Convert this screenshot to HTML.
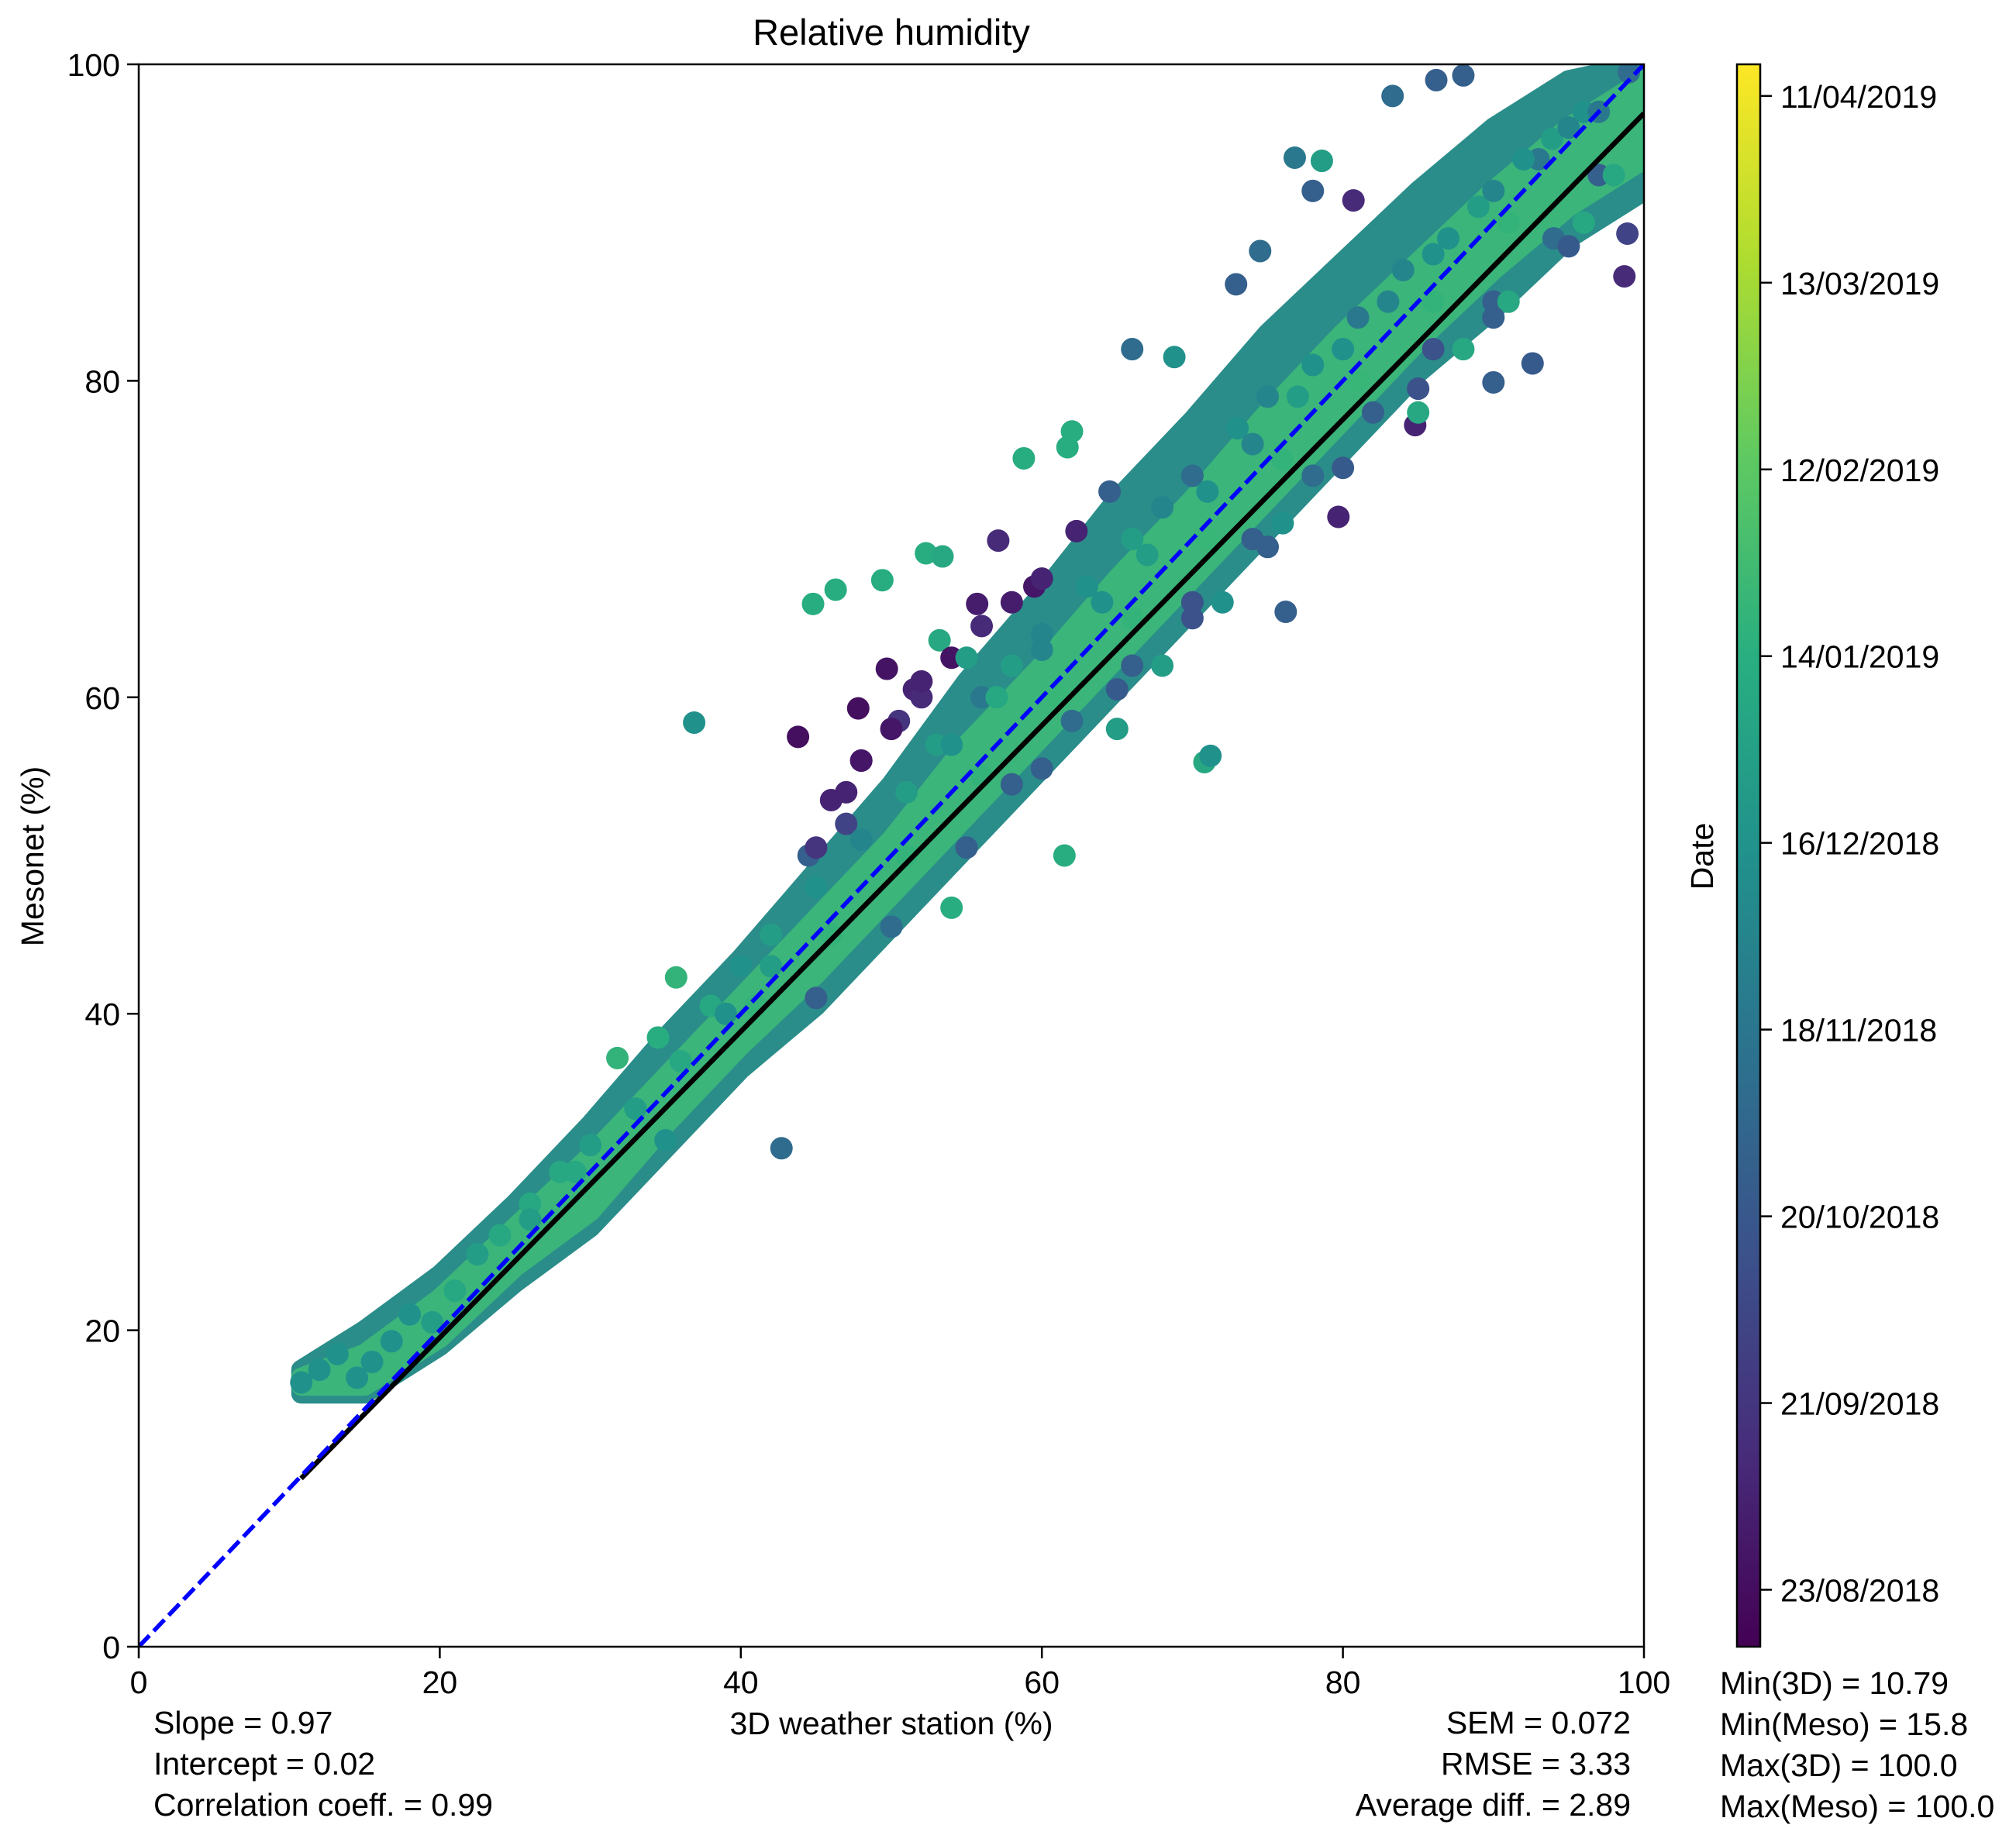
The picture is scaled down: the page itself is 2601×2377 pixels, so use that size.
<!DOCTYPE html>
<html><head><meta charset="utf-8"><style>
html,body{margin:0;padding:0;background:#fff}
svg text{font-family:"Liberation Sans",Arial,sans-serif;fill:#000}
</style></head><body>
<svg id="chart" width="2601" height="2372" viewBox="0 0 2601 2372" xmlns="http://www.w3.org/2000/svg">
<rect width="2601" height="2372" fill="#fff"/>
<defs>
<linearGradient id="vir" x1="0" y1="1" x2="0" y2="0">
<stop offset="0" stop-color="#440154"/><stop offset="0.125" stop-color="#472d7b"/><stop offset="0.25" stop-color="#3b528b"/><stop offset="0.375" stop-color="#2c728e"/><stop offset="0.5" stop-color="#21918c"/><stop offset="0.625" stop-color="#28ae80"/><stop offset="0.75" stop-color="#5ec962"/><stop offset="0.875" stop-color="#addc30"/><stop offset="1" stop-color="#fde725"/>
</linearGradient>
<clipPath id="plotclip"><rect x="179" y="83" width="1942" height="2042"/></clipPath>
</defs>
<g id="band" clip-path="url(#plotclip)"></g>
<g id="pts" clip-path="url(#plotclip)"></g>
<g id="lines" clip-path="url(#plotclip)"></g>
<rect x="179" y="83" width="1942" height="2042" fill="none" stroke="#000" stroke-width="2.5"/>
<g id="axes"></g>
<text x="1150" y="58" font-size="47" text-anchor="middle">Relative humidity</text>
<text x="1150" y="2238" font-size="41" text-anchor="middle">3D weather station (%)</text>
<text transform="translate(56,1105) rotate(-90)" font-size="41" text-anchor="middle">Mesonet (%)</text>
<rect x="2241" y="83" width="30" height="2042" fill="url(#vir)" stroke="#000" stroke-width="2.5"/>
<g id="cbar"></g>
<text transform="translate(2210,1105) rotate(-90)" font-size="41" text-anchor="middle">Date</text>
<g font-size="41">
<text x="198" y="2237">Slope = 0.97</text>
<text x="198" y="2290">Intercept = 0.02</text>
<text x="198" y="2343">Correlation coeff. = 0.99</text>
</g>
<g font-size="41" text-anchor="end">
<text x="2104" y="2237">SEM = 0.072</text>
<text x="2104" y="2290">RMSE = 3.33</text>
<text x="2104" y="2343">Average diff. = 2.89</text>
</g>
<g font-size="41">
<text x="2219" y="2186">Min(3D) = 10.79</text>
<text x="2219" y="2239">Min(Meso) = 15.8</text>
<text x="2219" y="2292">Max(3D) = 100.0</text>
<text x="2219" y="2345">Max(Meso) = 100.0</text>
</g>
</svg>
<script>
const xTicks=[0,20,40,60,80,100];
const yTicks=[0,20,40,60,80,100];
const cbarLabels=["23/08/2018","21/09/2018","20/10/2018","18/11/2018","16/12/2018","14/01/2019","12/02/2019","13/03/2019","11/04/2019"];
const cbarTickFrac=[0.036,0.154,0.272,0.390,0.508,0.626,0.744,0.862,0.980];
const bandX=[10.8,15,20,25,30,35,40,45,50,55,60,65,70,75,80,85,90,95,100];
const bandUpper=[17.5,20,23.5,28,33,38.5,43.5,49,54.5,61,66.5,72.5,77.5,83,87.5,92,96,99,100];
const bandLower=[16,16,19,23,26.5,31.5,36.5,40.5,45.5,50.5,55.5,60.5,65.5,70.5,75.5,80.5,84.5,89,92];
const innerUpper=[17,18.5,22,26.5,31,36,41,46,51,57,62,67.5,72.5,78,83,87.5,92,96,99];
const innerLower=[16.5,16.5,19.5,24,27.5,33,38,42.5,47.5,52.5,57.5,62.5,67.5,72.5,77.5,82.5,87,91,94];
const ptX=[10.8,12,13.2,14.5,15.5,16.8,18,19.5,21,22.5,24,26,28,30,31.8,33,34.5,35.7,36.9,38,42.7,43.8,44.8,46.3,49.4,52.3,53.4,53.2,58.8,62,61.7,61.5,54,70.8,71.2,66,68.8,83.3,86.2,88,76.8,78.6,78,80.7,72.9,74.5,98.7,98.9,92.6,90,93.9,76.2,79.7,84.8,47.8,49.7,51.5,55.7,57.1,59.5,62.3,64.5,46,48,50.5,52,44.5,47,53,56,58,60,63,66,68,70,73,75,78,81,84,87,90,93,96,99,40,42,45,48,51,54,57,60,64,67,71,74,77,80,83,86,89,92,95,97,26,29,33,36,39,42,58,62,66,70,74,78,82,86,90,94,97,85,88,91,96,98,65,68,72,76,50,52,54,56,58,60,47,48,45,55,60,65,70,75,80,85,90,95,55,50,45,35,41,46,51,56,61,66,71,76,81,86,91];
const ptY=[16.7,17.5,18.5,17,18,19.3,21,20.5,22.5,24.8,26,28,30,31.7,37.2,34,38.5,42.3,58.4,40.5,31.5,57.5,65.9,66.8,67.4,69.1,68.9,63.6,75.1,76.8,75.8,50,46.7,55.9,56.3,82,81.5,98,99,99.3,94.1,93.9,92,91.4,86.1,88.2,86.6,89.3,81.1,79.9,95.3,65.4,71.4,77.2,59.3,61.8,60.5,65.9,69.9,67,70.5,73,53.5,56,58.5,60,50,52,57,60,62,64,67,70,72,74,77,79,81,84,87,89,92,94,97,99.5,43,45,48,51,54,57,60,63,66,69,73,76,79,82,85,88,91,94,96,97,27,30,34,37,40,43,54.5,58.5,62,66,70,74,78,82,85,89,93,78,82,85,90,93,58,62,66,71,58,61,62.5,64.5,66,67.5,54,56,50.5,62.5,55.5,60.5,65,69.5,74.5,79.5,84,88.5,50.5,45.5,41,32,40.5,45,50,55,60,65,70,75,80,85,90];
const ptC=[0.5,0.5,0.5,0.5,0.5,0.5,0.5,0.55,0.6,0.55,0.6,0.6,0.6,0.55,0.65,0.55,0.62,0.65,0.5,0.6,0.35,0.04,0.62,0.62,0.62,0.62,0.6,0.6,0.62,0.62,0.62,0.62,0.62,0.6,0.5,0.35,0.5,0.35,0.3,0.3,0.4,0.55,0.3,0.12,0.3,0.35,0.12,0.2,0.28,0.3,0.55,0.3,0.1,0.1,0.04,0.05,0.1,0.08,0.12,0.06,0.1,0.3,0.1,0.05,0.15,0.12,0.3,0.2,0.55,0.4,0.55,0.45,0.5,0.55,0.45,0.35,0.5,0.45,0.5,0.4,0.45,0.5,0.45,0.4,0.5,0.35,0.5,0.55,0.5,0.45,0.55,0.5,0.6,0.45,0.5,0.55,0.5,0.45,0.55,0.5,0.45,0.5,0.55,0.5,0.45,0.4,0.55,0.6,0.55,0.6,0.5,0.55,0.3,0.35,0.3,0.25,0.3,0.35,0.3,0.25,0.3,0.35,0.3,0.6,0.6,0.6,0.6,0.6,0.55,0.55,0.5,0.5,0.06,0.1,0.05,0.12,0.08,0.1,0.1,0.06,0.15,0.55,0.3,0.28,0.25,0.3,0.28,0.25,0.3,0.28,0.3,0.35,0.3,0.5,0.65,0.65,0.65,0.65,0.66,0.65,0.66,0.65,0.66,0.65,0.65];
const fitSlope=0.967, fitIntercept=0.2, fitStart=10.79;

const NS="http://www.w3.org/2000/svg";
const L=179,R=2121,T=83,B=2125;
const sx=v=>L+(v/100)*(R-L), sy=v=>B-(v/100)*(B-T);
const vir=["#440154","#472d7b","#3b528b","#2c728e","#21918c","#28ae80","#5ec962","#addc30","#fde725"];
function hex(h){return [1,3,5].map(i=>parseInt(h.substr(i,2),16));}
function viridis(t){t=Math.max(0,Math.min(1,t));const p=t*8,i=Math.min(7,Math.floor(p)),f=p-i;const a=hex(vir[i]),b=hex(vir[i+1]);return "rgb("+a.map((v,k)=>Math.round(v+(b[k]-v)*f)).join(",")+")";}
function mk(tag,attrs,parent){const e=document.createElementNS(NS,tag);for(const k in attrs)e.setAttribute(k,attrs[k]);parent.appendChild(e);return e;}

const band=document.getElementById('band');
function poly(up,lo,fill,name){
  let d="M"+bandX.map((x,i)=>sx(x)+","+sy(up[i])).join(" L");
  d+=" L"+bandX.map((x,i)=>sx(x)+","+sy(lo[i])).reverse().join(" L")+" Z";
  const p=mk('path',{d:d,fill:fill,stroke:fill,'stroke-width':26,'stroke-linejoin':'round'},band);
  
  
}
poly(bandUpper,bandLower,"#2a8d8a","scatter-density-outer");
poly(innerUpper,innerLower,"#3bb57a","scatter-density-inner");

const pts=document.getElementById('pts');
for(let i=0;i<ptX.length;i++){
  const c=mk('circle',{cx:sx(ptX[i]),cy:sy(ptY[i]),r:14.5,fill:viridis(ptC[i])},pts);
  
  
}

const lines=document.getElementById('lines');
const fl=mk('line',{x1:sx(fitStart),y1:sy(fitSlope*fitStart+fitIntercept),x2:sx(100),y2:sy(fitSlope*100+fitIntercept),stroke:'#000','stroke-width':6.5},lines);


const il=mk('line',{x1:sx(0),y1:sy(0),x2:sx(100),y2:sy(100),stroke:'#0000ff','stroke-width':5.5,'stroke-dasharray':'20 8'},lines);



const axes=document.getElementById('axes');
xTicks.forEach(v=>{
  const t=mk('line',{x1:sx(v),y1:B,x2:sx(v),y2:B+15,stroke:'#000','stroke-width':2.5},axes);
  
  
  const l=mk('text',{x:sx(v),y:B+60,'font-size':41,'text-anchor':'middle'},axes);
  l.textContent=v;
  
  
});
yTicks.forEach(v=>{
  const t=mk('line',{x1:L-15,y1:sy(v),x2:L,y2:sy(v),stroke:'#000','stroke-width':2.5},axes);
  
  
  const l=mk('text',{x:L-24,y:sy(v)+15,'font-size':41,'text-anchor':'end'},axes);
  l.textContent=v;
  
  
});
const cb=document.getElementById('cbar');
cbarLabels.forEach((s,i)=>{
  const y=B-cbarTickFrac[i]*(B-T);
  const t=mk('line',{x1:2271,y1:y,x2:2286,y2:y,stroke:'#000','stroke-width':2.5},cb);
  
  
  const l=mk('text',{x:2297,y:y+15,'font-size':41},cb);
  l.textContent=s;
  
  
});
</script>
</body></html>
